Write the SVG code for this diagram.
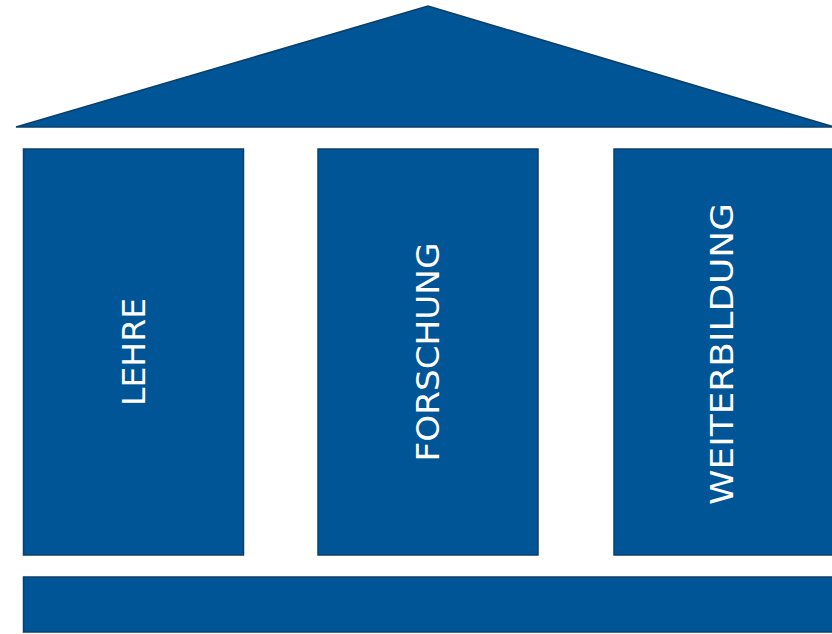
<svg xmlns="http://www.w3.org/2000/svg" width="832" height="634" viewBox="0 0 832 634">
<style>
.s{fill:#005596;stroke:#0B3F6B;stroke-width:1.5}
.t{fill:#FFFFFF;font-family:"DejaVu Sans","Verdana",sans-serif;font-size:31.5px;text-anchor:middle}
</style>
<rect width="832" height="634" fill="#FFFFFF"/>
<g id="roof"><polygon class="s" points="16,127 428,6 834,127"/></g>
<g id="lehre">
<rect class="s" x="23.5" y="149" width="220" height="406"/>
<text class="t" transform="translate(144.6,352) rotate(-90)" textLength="108" lengthAdjust="spacingAndGlyphs">LEHRE</text>
</g>
<g id="forschung">
<rect class="s" x="318" y="149" width="220" height="406"/>
<text class="t" transform="translate(438.8,352) rotate(-90)" textLength="219" lengthAdjust="spacingAndGlyphs">FORSCHUNG</text>
</g>
<g id="weiterbildung">
<rect class="s" x="614" y="149" width="230" height="406"/>
<text class="t" transform="translate(733.3,354) rotate(-90)" textLength="302" lengthAdjust="spacingAndGlyphs">WEITERBILDUNG</text>
</g>
<g id="base"><rect class="s" x="23.5" y="577" width="820" height="55"/></g>
<g id="connectors"/>
</svg>
